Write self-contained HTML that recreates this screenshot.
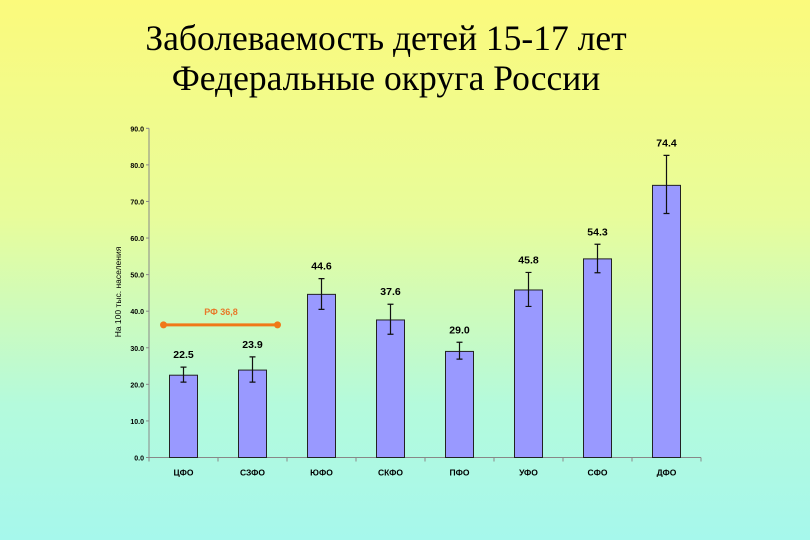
<!DOCTYPE html>
<html><head><meta charset="utf-8"><style>
html,body{margin:0;width:810px;height:540px;overflow:hidden;}
body{background:linear-gradient(180deg,#fbfa7c 0%,#e8fc9a 40%,#b4fadc 75%,#a6f8ec 100%);font-family:"Liberation Sans",sans-serif;}
svg{display:block;}
</style></head><body>
<svg width="810" height="540">
<text x="386" y="50" text-anchor="middle" font-family="Liberation Serif, serif" font-size="35.5">Заболеваемость детей 15-17 лет</text>
<text x="386" y="90" text-anchor="middle" font-family="Liberation Serif, serif" font-size="35.5">Федеральные округа России</text>
<text transform="translate(121,292) rotate(-90)" text-anchor="middle" font-size="8.5">На 100 тыс. населения</text>
<g id="plot"></g>
</svg>
<script>
const categories=["ЦФО","СЗФО","ЮФО","СКФО","ПФО","УФО","СФО","ДФО"];
const values=[22.5,23.9,44.6,37.6,29.0,45.8,54.3,74.4];
const errHigh=[24.7,27.5,48.9,41.9,31.5,50.6,58.3,82.6];
const errLow=[20.6,20.6,40.5,33.7,26.9,41.3,50.5,66.7];
const yTicks=[0,10,20,30,40,50,60,70,80,90];
const rfValue=36.8;
const ns="http://www.w3.org/2000/svg";
const g=document.getElementById("plot");
const X0=149,X1=701,Y0=457.5,Y90=128.3;
const band=(X1-X0)/categories.length;
const y=v=>Y0-(Y0-Y90)*v/90;
const xc=i=>X0+band*(i+0.5);
function mk(t,a,txt){const e=document.createElementNS(ns,t);for(const k in a)e.setAttribute(k,a[k]);if(txt!=null)e.textContent=txt;g.appendChild(e);return e;}
let e=mk("line",{x1:X0,y1:Y90,x2:X0,y2:Y0,stroke:"#888","stroke-width":1});


e=mk("line",{x1:X0,y1:Y0,x2:X1,y2:Y0,stroke:"#888","stroke-width":1});


yTicks.forEach(t=>{
 mk("line",{x1:X0-3,y1:y(t),x2:X0,y2:y(t),stroke:"#888"});
 const l=mk("text",{x:X0-5,y:y(t)+3,"text-anchor":"end","font-size":7,"font-weight":"bold"},t.toFixed(1));
 
 
});
for(let i=0;i<=categories.length;i++)mk("line",{x1:X0+band*i,y1:Y0,x2:X0+band*i,y2:Y0+4,stroke:"#888"});
categories.forEach((c,i)=>{
 const bw=28;
 const b=mk("rect",{x:xc(i)-bw/2,y:y(values[i]),width:bw,height:Y0-y(values[i]),fill:"#9999ff",stroke:"#222","stroke-width":1});
 
 
 const eb=mk("path",{d:`M${xc(i)} ${y(errHigh[i])}V${y(errLow[i])}M${xc(i)-3} ${y(errHigh[i])}h6M${xc(i)-3} ${y(errLow[i])}h6`,stroke:"#111","stroke-width":1.2,fill:"none"});
 
 
 const vl=mk("text",{x:xc(i),y:y(errHigh[i])-9,"text-anchor":"middle","font-size":10.5,"font-weight":"bold"},values[i].toFixed(1));
 
 
 const xl=mk("text",{x:xc(i),y:Y0+18,"text-anchor":"middle","font-size":8.5,"font-weight":"bold"},c);
 
 
});
const ry=y(rfValue)+2;
const rl=mk("line",{x1:xc(0)-20,y1:ry,x2:xc(1)+25,y2:ry,stroke:"#f07818","stroke-width":3});


[xc(0)-20,xc(1)+25].forEach(x=>{const d=mk("circle",{cx:x,cy:ry,r:3.5,fill:"#f07818"});});
const rt=mk("text",{x:(xc(0)+xc(1))/2+3,y:ry-10,"text-anchor":"middle","font-size":9,"font-weight":"bold",fill:"#e8782a"},"РФ 36,8");


</script>
</body></html>
